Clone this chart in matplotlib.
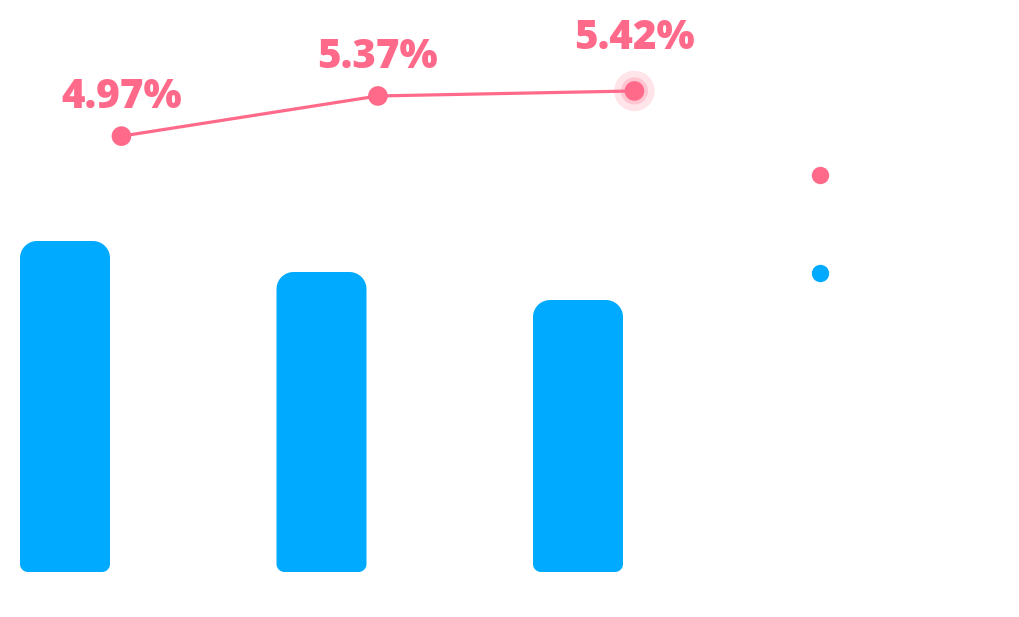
import numpy as np
import matplotlib
matplotlib.use('Agg')
import matplotlib.pyplot as plt
from matplotlib.patches import PathPatch
from matplotlib.path import Path
from matplotlib.lines import Line2D

categories = ['A', 'B', 'C']
bar_values = [3.31, 3.00, 2.72]
rate_values = [4.97, 5.37, 5.42]
highlight = 2

PINK = '#ff6a8a'
BLUE = '#00aaff'

PX_X = 256.5   # pixels per category
PX_Y = 100.0   # pixels per bar unit


def rounded_bar(ax, x, h, width, r_top, r_bot):
    # polygon with circular corners in pixel terms, top and bottom radii differ
    x0, x1 = x - width / 2, x + width / 2
    rx_t, ry_t = r_top / PX_X, r_top / PX_Y
    rx_b, ry_b = r_bot / PX_X, r_bot / PX_Y
    t = np.linspace(0, np.pi / 2, 12)
    pts = []
    # bottom-left, bottom-right, top-right, top-left
    for cx, cy, rx, ry, a0 in ((x0 + rx_b, ry_b, rx_b, ry_b, np.pi),
                               (x1 - rx_b, ry_b, rx_b, ry_b, 1.5 * np.pi),
                               (x1 - rx_t, h - ry_t, rx_t, ry_t, 0),
                               (x0 + rx_t, h - ry_t, rx_t, ry_t, 0.5 * np.pi)):
        pts += list(zip(cx + rx * np.cos(a0 + t), cy + ry * np.sin(a0 + t)))
    pts.append(pts[0])
    codes = [Path.MOVETO] + [Path.LINETO] * (len(pts) - 2) + [Path.CLOSEPOLY]
    ax.add_patch(PathPatch(Path(pts, codes), fc=BLUE, ec='none'))


fig = plt.figure(figsize=(10.2, 6.17), dpi=100)
ax = fig.add_axes([0, 0, 1, 1])
ax.set_xlim(-65 / PX_X, (1020 - 65) / PX_X)
ax.set_ylim(-45 / PX_Y, 572 / PX_Y)
ax.axis('off')

xs = list(range(len(categories)))
for x, v in zip(xs, bar_values):
    rounded_bar(ax, x, v, 90 / PX_X, 17, 8)

ax2 = ax.twinx()
ax2.set_ylim(0.18, 6.326)
ax2.axis('off')
lx = [x + 0.22 for x in xs]
ax2.plot(lx, rate_values, color=PINK, lw=2.3, zorder=2)
ax2.scatter(lx, rate_values, s=200, color=PINK, zorder=3, edgecolors='none')
ax2.scatter(lx[highlight], rate_values[highlight], s=850, color=PINK, alpha=0.18, zorder=1, edgecolors='none')
ax2.scatter(lx[highlight], rate_values[highlight], s=380, color=PINK, alpha=0.25, zorder=1, edgecolors='none')
for i, (x, v) in enumerate(zip(lx, rate_values)):
    off = 30 if i == highlight else 20
    ax2.annotate(f'{v:.2f}%', (x, v), xytext=(0, off), textcoords='offset points',
                 ha='center', va='baseline', fontsize=29, fontweight='heavy',
                 family=['Open Sans', 'DejaVu Sans'], color=PINK)

for y, c in ((175, PINK), (273, BLUE)):
    fig.add_artist(Line2D([820 / 1020], [1 - y / 617], marker='o', markersize=12.5,
                          color=c, markeredgewidth=0, transform=fig.transFigure))

fig.savefig('out.png', dpi=100)
